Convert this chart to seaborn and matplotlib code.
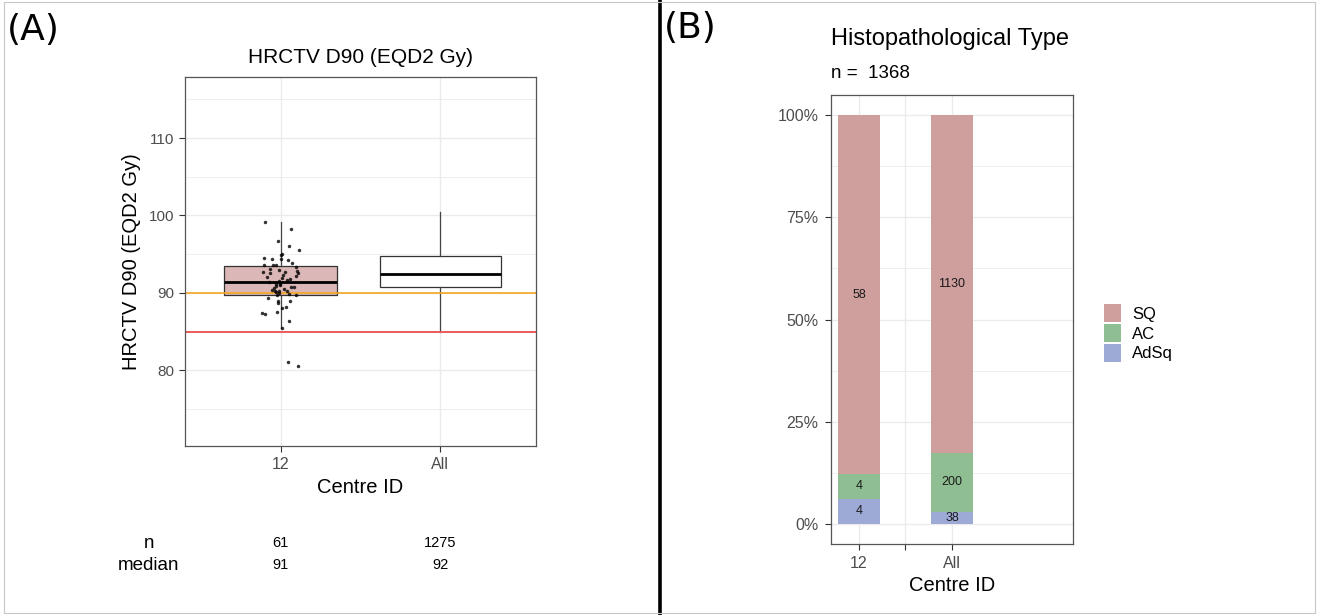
import numpy as np
import pandas as pd
import matplotlib
matplotlib.use("Agg")
import matplotlib.pyplot as plt
import matplotlib.transforms as mtransforms
from matplotlib.patches import Patch
from matplotlib.ticker import MultipleLocator, PercentFormatter
import seaborn as sns

# ---- data ----
centres = ["12", "All"]

# individual HRCTV D90 values for centre 12 (n = 61)
d90_centre12 = [
    99.1, 98.2, 96.7, 96.1, 95.6, 95.0, 94.9, 94.5, 94.4, 94.4, 94.3, 93.9, 93.6, 93.6, 93.6,
    93.3, 93.1, 92.9, 92.8, 92.7, 92.7, 92.6, 92.5, 92.3, 92.2, 92.1, 91.9, 91.8, 91.6, 91.5,
    91.4, 91.2, 91.1, 91.0, 90.9, 90.8, 90.7, 90.6, 90.5, 90.4, 90.3, 90.3, 90.2, 90.1, 90.0,
    89.9, 89.7, 89.7, 89.3, 89.0, 88.9, 88.7, 88.2, 88.0, 87.5, 87.4, 87.2, 86.4, 85.5, 81.0,
    80.6,
]

# box summary per centre
box_q1 = [89.75, 90.7]
box_median = [91.4, 92.4]
box_q3 = [93.5, 94.7]
whisker_lo = [85.5, 85.0]
whisker_hi = [99.1, 100.5]
box_fill = ["#dbb8b7", "white"]

n_table = [61, 1275]
median_table = [91, 92]

target_dose = 90
min_dose = 85

# histopathological type counts
hist_centres = ["12", " ", "All"]
hist_types = ["SQ", "AC", "AdSq"]
sq_counts = [58, 1130]
ac_counts = [4, 200]
adsq_counts = [4, 38]
hist_n = 1368
type_colors = {"SQ": "#cf9f9d", "AC": "#8fbe93", "AdSq": "#9eaad6"}

# ---- figure ----
W, H = 1319, 615
fig = plt.figure(figsize=(W / 100, H / 100), dpi=100)
plt.rcParams["font.family"] = ["Liberation Sans", "DejaVu Sans"]


def fx(px):
    return px / W


def fy(py):
    return 1 - py / H


grid_col = "#ebebeb"
tick_col = "#4d4d4d"

# ================= panel A: boxplot =================
axA = fig.add_axes([fx(185), fy(446), fx(536) - fx(185), fy(77) - fy(446)])

stats = []
for i in range(len(centres)):
    stats.append(dict(med=box_median[i], q1=box_q1[i], q3=box_q3[i],
                      whislo=whisker_lo[i], whishi=whisker_hi[i], fliers=[]))
bp = axA.bxp(stats, positions=[0, 1], widths=[0.71, 0.76], patch_artist=True,
             showfliers=False, showcaps=False, manage_ticks=False,
             boxprops=dict(edgecolor="#333333", linewidth=0.9),
             medianprops=dict(color="black", linewidth=2.0),
             whiskerprops=dict(color="#444444", linewidth=0.9))
for patch, fc in zip(bp["boxes"], box_fill):
    patch.set_facecolor(fc)
    patch.set_zorder(2)

axA.axhline(target_dose, color="#f5a623", lw=1.2, zorder=2.5)
axA.axhline(min_dose, color="#ec5a5a", lw=1.4, zorder=2.5)

np.random.seed(7)
strip_df = pd.DataFrame({"centre": ["12"] * len(d90_centre12), "d90": d90_centre12})
sns.stripplot(data=strip_df, x="centre", y="d90", order=centres, ax=axA,
              color="black", size=2.5, jitter=0.12, alpha=0.8, zorder=3)

axA.set_xlim(-0.6, 1.6)
axA.set_ylim(70.2, 117.9)
axA.set_xticks([0, 1])
axA.set_xticklabels(centres)
axA.yaxis.set_major_locator(MultipleLocator(10))
axA.yaxis.set_minor_locator(MultipleLocator(5))
axA.set_axisbelow(True)
axA.grid(True, which="major", color=grid_col, lw=1.0)
axA.grid(True, which="minor", axis="y", color=grid_col, lw=0.6)
axA.tick_params(which="minor", length=0)
axA.tick_params(which="major", length=4, width=0.8, color="#333333",
                labelcolor=tick_col, labelsize=11, pad=4)
axA.tick_params(axis="x", labelsize=11.5)
for sp in axA.spines.values():
    sp.set_color("#555555")
    sp.set_linewidth(0.9)
axA.set_xlabel("Centre ID", fontsize=14.5, labelpad=4)
axA.set_ylabel("HRCTV D90 (EQD2 Gy)", fontsize=14.5, labelpad=5)
axA.set_title("HRCTV D90 (EQD2 Gy)", fontsize=15, pad=10)

# n / median table under panel A
trans = mtransforms.blended_transform_factory(axA.transData, fig.transFigure)
fig.text(fx(149), fy(543), "n", ha="center", va="center", fontsize=13.5)
fig.text(fx(149), fy(565), "median", ha="center", va="center", fontsize=13.5)
for i in range(len(centres)):
    axA.text(i, fy(543), str(n_table[i]), transform=trans, ha="center", va="center", fontsize=10.5)
    axA.text(i, fy(565), str(median_table[i]), transform=trans, ha="center", va="center", fontsize=10.5)

# ================= panel B: stacked proportions =================
axB = fig.add_axes([fx(831), fy(544), fx(1073) - fx(831), fy(95) - fy(544)])

hist_df = pd.DataFrame({"centre": ["12", "All"], "SQ": sq_counts, "AC": ac_counts, "AdSq": adsq_counts})
hist_df["total"] = hist_df[hist_types].sum(axis=1)
hist_df["f_adsq"] = hist_df["AdSq"] / hist_df["total"]
hist_df["f_ac"] = hist_df["f_adsq"] + hist_df["AC"] / hist_df["total"]
hist_df["f_sq"] = hist_df["f_ac"] + hist_df["SQ"] / hist_df["total"]

for col, t in [("f_sq", "SQ"), ("f_ac", "AC"), ("f_adsq", "AdSq")]:
    sns.barplot(data=hist_df, x="centre", y=col, order=hist_centres, ax=axB,
                color=type_colors[t], saturation=1, width=0.9, linewidth=0, errorbar=None)

for _, row in hist_df.iterrows():
    xpos = hist_centres.index(row["centre"])
    axB.text(xpos, (row["f_ac"] + row["f_sq"]) / 2, str(row["SQ"]), ha="center", va="center",
             fontsize=9, color="#1a1a1a")
    axB.text(xpos, (row["f_adsq"] + row["f_ac"]) / 2, str(row["AC"]), ha="center", va="center",
             fontsize=9, color="#1a1a1a")
    axB.text(xpos, row["f_adsq"] / 2, str(row["AdSq"]), ha="center", va="center",
             fontsize=9, color="#1a1a1a")

axB.set_xlim(-0.6, 4.6)
axB.set_ylim(-0.05, 1.05)
axB.set_xticks([0, 1, 2])
axB.set_xticklabels(["12", "", "All"])
axB.set_yticks([0, 0.25, 0.5, 0.75, 1.0])
axB.yaxis.set_major_formatter(PercentFormatter(1.0, decimals=0))
axB.yaxis.set_minor_locator(MultipleLocator(0.125))
axB.set_axisbelow(True)
axB.grid(True, which="major", color=grid_col, lw=1.0)
axB.grid(True, which="minor", axis="y", color=grid_col, lw=0.6)
axB.tick_params(which="minor", length=0)
axB.tick_params(which="major", length=4, width=0.8, color="#333333",
                labelcolor=tick_col, labelsize=11.5, pad=5)
for sp in axB.spines.values():
    sp.set_color("#555555")
    sp.set_linewidth(0.9)
axB.set_xlabel("Centre ID", fontsize=14.5, labelpad=3)
axB.set_ylabel("")

fig.text(fx(831), fy(45), "Histopathological Type", ha="left", va="baseline", fontsize=17)
fig.text(fx(831), fy(78), "n =  %d" % hist_n, ha="left", va="baseline", fontsize=13.5)

handles = [Patch(facecolor=type_colors[t], edgecolor="none") for t in hist_types]
fig.legend(handles, hist_types, loc="upper left", bbox_to_anchor=(fx(1104), fy(304)),
           frameon=False, fontsize=12, handlelength=1.0, handleheight=1.3,
           labelspacing=0.1, handletextpad=0.7, borderaxespad=0, borderpad=0)

# ---- panel labels, divider, border ----
fig.text(fx(7), fy(40), "(A)", ha="left", va="baseline", fontsize=26, family="DejaVu Sans")
fig.text(fx(664), fy(38), "(B)", ha="left", va="baseline", fontsize=26, family="DejaVu Sans")
fig.add_artist(plt.Line2D([fx(660), fx(660)], [0, 1], color="black", lw=2.6))
fig.add_artist(plt.Line2D([fx(4), fx(1315), fx(1315), fx(4), fx(4)],
                          [fy(2), fy(2), fy(613), fy(613), fy(2)], color="#c8c8c8", lw=0.8))

fig.savefig("out.png", dpi=100)
